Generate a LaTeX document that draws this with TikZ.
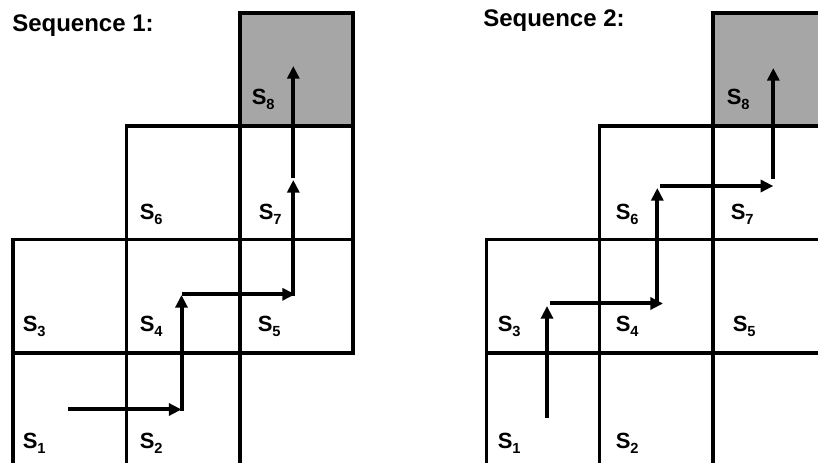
\documentclass[tikz,border=0pt]{standalone}
\usepackage{fontspec}
\setmainfont{Liberation Sans}
\usetikzlibrary{arrows.meta}
\definecolor{cellgray}{RGB}{166,166,166}
\newcommand{\slab}[1]{S\raisebox{-3.4pt}{\fontsize{11pt}{11pt}\selectfont #1}}
\begin{document}
\begin{tikzpicture}[x=0.75pt,y=-0.75pt,
  gridline/.style={line width=2.7pt, line join=miter},
  grayfill/.style={fill=cellgray},
  movearrow/.style={line width=3pt, -{Triangle[length=9.5pt,width=9pt]}},
  celllabel/.style={anchor=base west, inner sep=0pt, font=\fontsize{16.5pt}{19pt}\selectfont\bfseries},
  titlelabel/.style={anchor=base west, inner sep=0pt, font=\fontsize{18pt}{21pt}\selectfont\bfseries}]
\path[use as bounding box] (0,0) rectangle (818,463);
\clip (0,0) rectangle (818,463);

% ---------- Sequence 1 (left) ----------
\node[titlelabel] (t1) at (12,31.5) {Sequence 1:};
\begin{scope}[shift={(13,13)}]
  \draw[gridline, grayfill] (226.7,0) rectangle (340,113.3);
  \draw[gridline] (113.3,113.3) rectangle (340,226.7);
  \draw[gridline] (226.7,113.3) -- (226.7,226.7);
  \draw[gridline] (0,226.7) rectangle (340,340);
  \draw[gridline] (113.3,226.7) -- (113.3,340);
  \draw[gridline] (226.7,226.7) -- (226.7,340);
  \draw[gridline] (0,340) rectangle (226.7,453.3);
  \draw[gridline] (113.3,340) -- (113.3,453.3);
\end{scope}
\node[celllabel] (l1s1) at (22.5,449) {\slab{1}};
\node[celllabel] (l1s2) at (139.5,449) {\slab{2}};
\node[celllabel] (l1s3) at (22.5,332) {\slab{3}};
\node[celllabel] (l1s4) at (139.5,332) {\slab{4}};
\node[celllabel] (l1s5) at (257.5,332) {\slab{5}};
\node[celllabel] (l1s6) at (139.5,220) {\slab{6}};
\node[celllabel] (l1s7) at (258.5,220) {\slab{7}};
\node[celllabel] (l1s8) at (251.5,105) {\slab{8}};

\coordinate (p1a) at (68,409.5);
\coordinate (p1b) at (181.5,409.5);
\coordinate (p1c) at (181.5,411.5);
\coordinate (p1d) at (181.5,295);
\coordinate (p1e) at (181.5,294.3);
\coordinate (p1f) at (295,294.3);
\coordinate (p1g) at (293.3,296.3);
\coordinate (p1h) at (293.3,180);
\coordinate (p1i) at (293.3,178);
\coordinate (p1j) at (293.3,66);
\draw[movearrow] (p1a) -- (p1b);
\draw[movearrow] (p1c) -- (p1d);
\draw[movearrow] (p1e) -- (p1f);
\draw[movearrow] (p1g) -- (p1h);
\draw[movearrow] (p1i) -- (p1j);

% ---------- Sequence 2 (right) ----------
\node[titlelabel] (t2) at (483,27) {Sequence 2:};
\begin{scope}[shift={(486.3,13)}]
  \draw[gridline, grayfill] (226.7,0) rectangle (340,113.3);
  \draw[gridline] (113.3,113.3) rectangle (340,226.7);
  \draw[gridline] (226.7,113.3) -- (226.7,226.7);
  \draw[gridline] (0,226.7) rectangle (340,340);
  \draw[gridline] (113.3,226.7) -- (113.3,340);
  \draw[gridline] (226.7,226.7) -- (226.7,340);
  \draw[gridline] (0,340) rectangle (226.7,453.3);
  \draw[gridline] (113.3,340) -- (113.3,453.3);
\end{scope}
\node[celllabel] (l2s1) at (497.5,449) {\slab{1}};
\node[celllabel] (l2s2) at (615.5,449) {\slab{2}};
\node[celllabel] (l2s3) at (497.5,332) {\slab{3}};
\node[celllabel] (l2s4) at (615.5,332) {\slab{4}};
\node[celllabel] (l2s5) at (732.5,332) {\slab{5}};
\node[celllabel] (l2s6) at (615.5,220) {\slab{6}};
\node[celllabel] (l2s7) at (730.5,220) {\slab{7}};
\node[celllabel] (l2s8) at (726.5,105) {\slab{8}};

\coordinate (p2a) at (547,418);
\coordinate (p2b) at (547,306);
\coordinate (p2c) at (550,303.5);
\coordinate (p2d) at (663,303.5);
\coordinate (p2e) at (657.3,305.5);
\coordinate (p2f) at (657.3,188);
\coordinate (p2g) at (660,186);
\coordinate (p2h) at (773.3,186);
\coordinate (p2i) at (773.3,179);
\coordinate (p2j) at (773.3,68);
\draw[movearrow] (p2a) -- (p2b);
\draw[movearrow] (p2c) -- (p2d);
\draw[movearrow] (p2e) -- (p2f);
\draw[movearrow] (p2g) -- (p2h);
\draw[movearrow] (p2i) -- (p2j);
\end{tikzpicture}
\end{document}
